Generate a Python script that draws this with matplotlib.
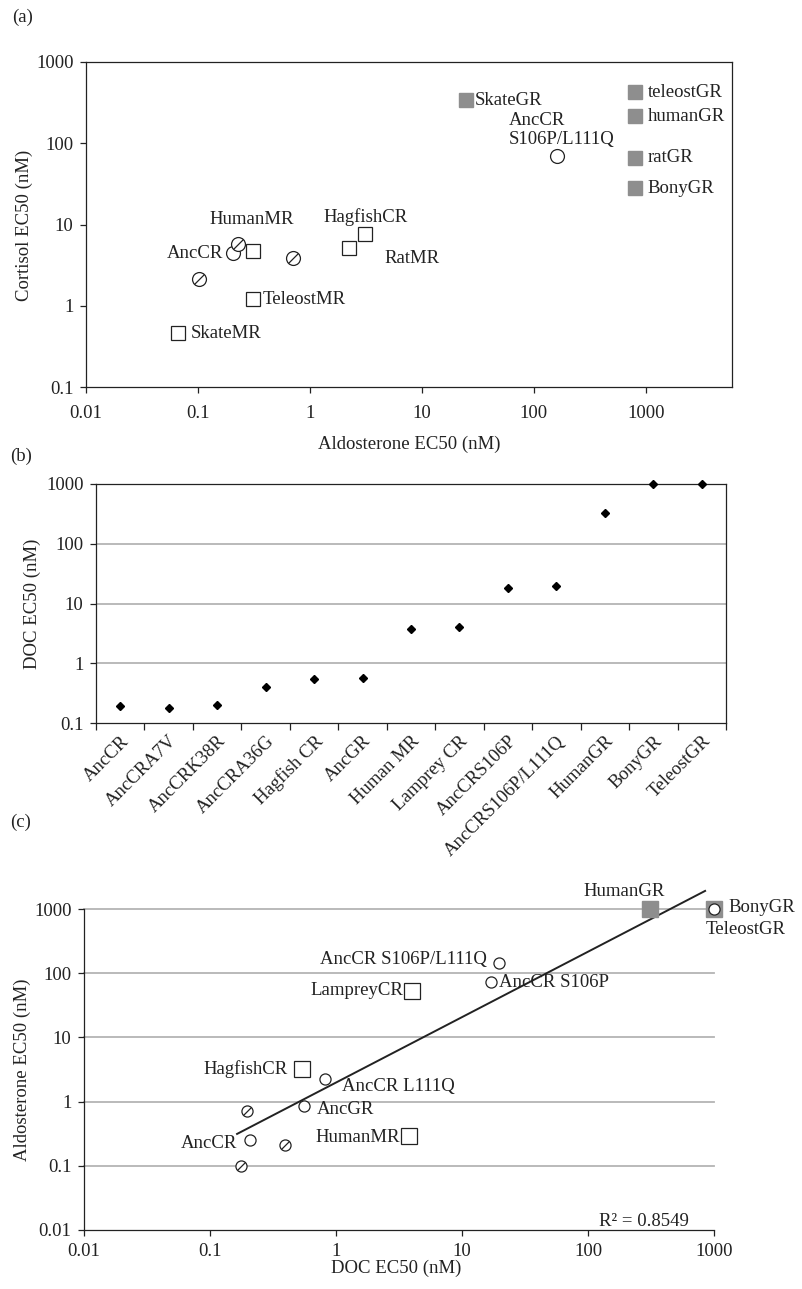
import numpy as np
import matplotlib
matplotlib.use('Agg')
import matplotlib.pyplot as plt
from matplotlib.path import Path
from matplotlib.ticker import FixedLocator, FixedFormatter, NullLocator

plt.rcParams['font.family'] = ['Liberation Serif', 'DejaVu Serif']
plt.rcParams['font.size'] = 13.5

INK = '#222222'
GRAY = '#8e8e8e'
GRID = '#b4b4b4'

# ---- (a) aldosterone vs cortisol EC50
a_names = ['AncCR', 'HumanMR', '', '', '', 'RatMR', 'HagfishCR', 'TeleostMR', 'SkateMR',
           'SkateGR', 'AncCR\nS106P/L111Q', 'teleostGR', 'humanGR', 'ratGR', 'BonyGR']
a_aldo = [0.205, 0.228, 0.31, 0.705, 0.102, 2.23, 3.09, 0.31, 0.066,
          25, 160, 800, 800, 800, 800]
a_cort = [4.45, 5.75, 4.72, 3.87, 2.13, 5.14, 7.6, 1.21, 0.46,
          340, 70, 427, 216, 66, 28]
a_kind = ['open', 'slash', 'square', 'slash', 'slash', 'square', 'square', 'square', 'square',
          'gray', 'open', 'gray', 'gray', 'gray', 'gray']

# ---- (b) DOC EC50 per receptor
b_cats = ['AncCR', 'AncCRA7V', 'AncCRK38R', 'AncCRA36G', 'Hagfish CR', 'AncGR', 'Human MR',
          'Lamprey CR', 'AncCRS106P', 'AncCRS106P/L111Q', 'HumanGR', 'BonyGR', 'TeleostGR']
b_doc = [0.193, 0.18, 0.2, 0.40, 0.54, 0.56, 3.74, 4.04, 17.9, 19.9, 327, 1000, 1000]

# ---- (c) DOC vs aldosterone EC50
c_names = ['AncCR', '', '', '', 'AncGR', 'AncCR L111Q', 'HagfishCR', 'HumanMR', 'LampreyCR',
           'AncCR S106P', 'AncCR S106P/L111Q', 'HumanGR', 'BonyGR', 'TeleostGR']
c_doc = [0.207, 0.176, 0.197, 0.394, 0.557, 0.818, 0.537, 3.8, 4.0, 17, 19.7, 310, 1000, 1000]
c_aldo = [0.25, 0.1, 0.71, 0.21, 0.85, 2.25, 3.2, 0.29, 53, 73, 144, 1000, 1000, 1000]
c_kind = ['open', 'slash', 'slash', 'slash', 'open', 'open', 'square', 'square', 'square',
          'open', 'open', 'gray', 'open', 'gray']
# power trendline y = coef * x**expo, as drawn
c_trend_coef = 1.98
c_trend_expo = 1.019
c_trend_span = [0.164, 850]
c_r2 = '0.8549'

log_ticks = [0.01, 0.1, 1, 10, 100, 1000]
log_labels = ['0.01', '0.1', '1', '10', '100', '1000']

# label placement, pixel offsets from the point
a_offsets = {'AncCR': (-10, 0, 'right'), 'HumanMR': (14, 25, 'center'),
             'RatMR': (36, -11, 'left'), 'HagfishCR': (1, 17, 'center'),
             'TeleostMR': (10, 0, 'left'), 'SkateMR': (13, 0, 'left'),
             'SkateGR': (8, 0, 'left'), 'AncCR\nS106P/L111Q': (-48, 26, 'left'),
             'teleostGR': (13, 0, 'left'), 'humanGR': (13, 0, 'left'),
             'ratGR': (13, 0, 'left'), 'BonyGR': (13, 0, 'left')}
c_offsets = {'AncCR': (-13, -3, 'right'), 'AncGR': (13, -3, 'left'),
             'AncCR L111Q': (17, -8, 'left'), 'HagfishCR': (-14, 0, 'right'),
             'HumanMR': (-9, -1, 'right'), 'LampreyCR': (-9, 0, 'right'),
             'AncCR S106P': (8, -1, 'left'), 'AncCR S106P/L111Q': (-12, 4, 'right'),
             'HumanGR': (-26, 18, 'center'), 'BonyGR': (14, 2, 'left'),
             'TeleostGR': (-8, -20, 'left')}

SLASH = Path([(-1, -1), (1, 1)], [Path.MOVETO, Path.LINETO])


def draw_points(ax, xs, ys, kinds, circ, sq):
    for x, y, k in zip(xs, ys, kinds):
        if k == 'gray':
            ax.plot(x, y, 's', ms=sq, mfc=GRAY, mec=GRAY, zorder=3, clip_on=False)
        elif k == 'square':
            ax.plot(x, y, 's', ms=sq, mfc='white', mec=INK, mew=0.9, zorder=4, clip_on=False)
        else:
            ax.plot(x, y, 'o', ms=circ, mfc='white', mec=INK, mew=0.9, zorder=4, clip_on=False)
            if k == 'slash':
                ax.plot(x, y, marker=SLASH, ms=circ * 0.72, mec=INK, mew=0.9,
                        linestyle='none', zorder=5, clip_on=False)


def put_labels(ax, xs, ys, names, offsets):
    for x, y, n in zip(xs, ys, names):
        if not n:
            continue
        dx, dy, ha = offsets[n]
        ax.annotate(n, (x, y), xytext=(dx, dy), textcoords='offset pixels',
                    ha=ha, va='center', color=INK, zorder=6, annotation_clip=False)


def log_axis(axis, ticks, labels):
    axis.set_major_locator(FixedLocator(ticks))
    axis.set_major_formatter(FixedFormatter(labels))
    axis.set_minor_locator(NullLocator())


W, H = 803, 1289
fig = plt.figure(figsize=(W / 100, H / 100), dpi=100)


def px_axes(x0, y0, x1, y1):
    return fig.add_axes([x0 / W, 1 - y1 / H, (x1 - x0) / W, (y1 - y0) / H])


# ---------- (a)
ax = px_axes(86, 62, 732, 387)
ax.set_xscale('log')
ax.set_yscale('log')
ax.set_xlim(0.01, 5900)
ax.set_ylim(0.1, 1000)
log_axis(ax.xaxis, log_ticks, log_labels)
log_axis(ax.yaxis, log_ticks[1:], log_labels[1:])
draw_points(ax, a_aldo, a_cort, a_kind, 10, 10)
put_labels(ax, a_aldo, a_cort, a_names, a_offsets)
ax.tick_params(direction='out', length=4, width=0.9, color=INK, labelcolor=INK, pad=5)
ax.tick_params(axis='x', pad=9)
for s in ax.spines.values():
    s.set_color(INK)
    s.set_linewidth(0.9)
fig.text(12 / W, 1 - 17 / H, '(a)', ha='left', va='center', color=INK)
fig.text(24 / W, 1 - 225 / H, 'Cortisol EC50 (nM)', rotation=90, ha='center', va='center', color=INK)
fig.text(409 / W, 1 - 444 / H, 'Aldosterone EC50 (nM)', ha='center', va='center', color=INK)

# ---------- (b)
ax = px_axes(96, 484, 726, 723)
ax.set_yscale('log')
ax.set_ylim(0.1, 1000)
ax.set_xlim(-0.5, len(b_cats) - 0.5)
log_axis(ax.yaxis, log_ticks[1:], log_labels[1:])
xs = np.arange(len(b_cats))
ax.plot(xs, b_doc, 'D', ms=4.2, color='black', linestyle='none', zorder=4, clip_on=False)
for v in [1, 10, 100]:
    ax.axhline(v, color=GRID, lw=1.3, zorder=1)
ax.set_xticks(xs)
ax.set_xticklabels(b_cats, rotation=45, ha='right', va='top', rotation_mode='anchor')
ax.set_xticks(np.arange(-0.5, len(b_cats), 1), minor=True)
ax.tick_params(axis='x', which='major', length=0, pad=7, labelcolor=INK)
ax.tick_params(axis='x', which='minor', direction='out', length=5, width=0.9, color=INK)
ax.tick_params(axis='y', direction='out', length=4, width=0.9, color=INK, labelcolor=INK, pad=5)
for s in ax.spines.values():
    s.set_color(INK)
    s.set_linewidth(0.9)
fig.text(10 / W, 1 - 456 / H, '(b)', ha='left', va='center', color=INK)
fig.text(32 / W, 1 - 604 / H, 'DOC EC50 (nM)', rotation=90, ha='center', va='center', color=INK)

# ---------- (c)
ax = px_axes(84, 909, 714, 1230)
ax.set_xscale('log')
ax.set_yscale('log')
ax.set_xlim(0.01, 1000)
ax.set_ylim(0.01, 1000)
log_axis(ax.xaxis, log_ticks, log_labels)
log_axis(ax.yaxis, log_ticks, log_labels)
for v in log_ticks[1:]:
    ax.axhline(v, color=GRID, lw=1.3, zorder=1, clip_on=False)
tx = np.array(c_trend_span)
ax.plot(tx, c_trend_coef * tx ** c_trend_expo, color=INK, lw=1.4, zorder=2, clip_on=False)
draw_points(ax, c_doc, c_aldo, c_kind, 8, 11)
put_labels(ax, c_doc, c_aldo, c_names, c_offsets)
ax.text(0.817, 0.025, 'R² = ' + c_r2, transform=ax.transAxes, ha='left', va='center', color=INK)
ax.spines['top'].set_visible(False)
ax.spines['right'].set_visible(False)
for s in ax.spines.values():
    s.set_color(INK)
    s.set_linewidth(0.9)
ax.tick_params(direction='out', length=4, width=0.9, color=INK, labelcolor=INK, pad=5)
fig.text(10 / W, 1 - 822 / H, '(c)', ha='left', va='center', color=INK)
fig.text(22 / W, 1 - 1070 / H, 'Aldosterone EC50 (nM)', rotation=90, ha='center', va='center', color=INK)
fig.text(396 / W, 1 - 1268 / H, 'DOC EC50 (nM)', ha='center', va='center', color=INK)

fig.savefig('out.png', dpi=100)
